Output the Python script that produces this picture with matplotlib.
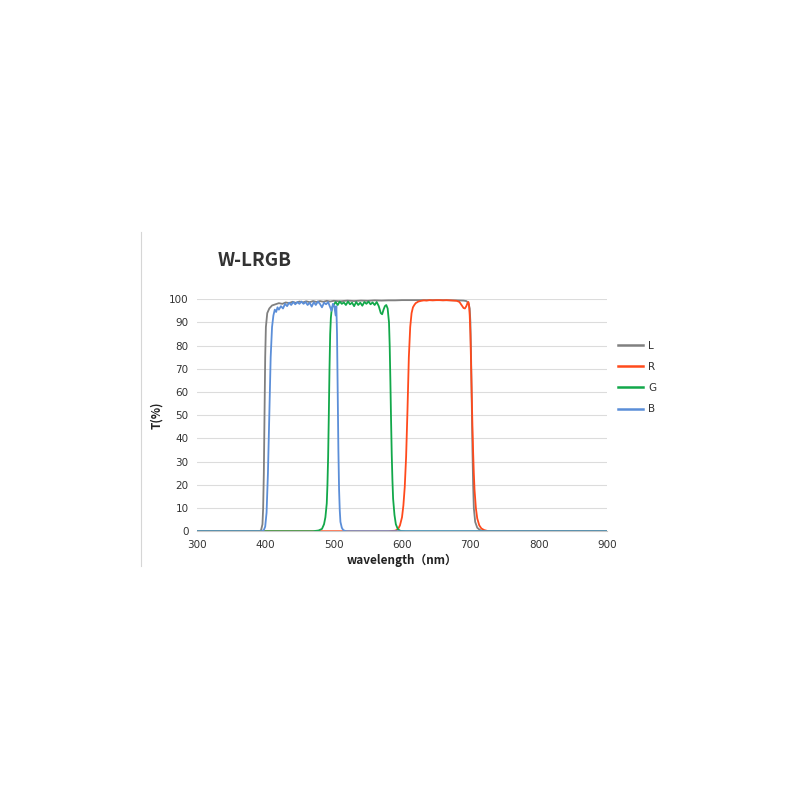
import matplotlib
matplotlib.use("Agg")
import matplotlib.pyplot as plt
from matplotlib.lines import Line2D

# ---- data ----
L_wl = [300, 385, 392, 394, 396, 397, 398, 399, 400, 401,
        403, 406, 410, 415, 420, 425, 430, 435, 440, 445,
        450, 455, 460, 465, 470, 475, 480, 485, 490, 495,
        500, 510, 520, 530, 540, 550, 560, 570, 580, 590,
        600, 620, 640, 660, 680, 690, 694, 697, 699, 700,
        701, 702, 703, 704, 705, 707, 710, 714, 718, 730, 900]
L_T = [0, 0, 0, 0.5, 3, 10, 25, 50, 75, 88,
       94, 96, 97.3, 97.8, 98.3, 98.0, 98.6, 98.3, 98.9, 98.4,
       99.0, 98.6, 99.1, 98.7, 99.2, 98.8, 99.2, 98.9, 99.3, 99.0,
       99.3, 99.1, 99.4, 99.2, 99.4, 99.3, 99.5, 99.4, 99.5, 99.5,
       99.6, 99.6, 99.6, 99.6, 99.5, 99.4, 99.2, 98.5, 96, 90,
       75, 55, 35, 20, 10, 4, 1.5, 0.5, 0.1, 0, 0]

R_wl = [300, 580, 590, 594, 597, 600, 602, 604, 606, 608,
        610, 612, 614, 616, 618, 620, 624, 628, 632, 636,
        640, 645, 650, 655, 660, 665, 670, 675, 680, 684,
        687, 690, 692, 694, 696, 697, 698, 699, 700, 701,
        702, 703, 704, 705, 706, 708, 710, 713, 716, 720,
        725, 730, 900]
R_T = [0, 0, 0.2, 0.8, 2.5, 6, 11, 19, 32, 52,
       75, 88, 94, 96.5, 97.5, 98.3, 99, 99.3, 99.5, 99.4,
       99.6, 99.5, 99.6, 99.6, 99.5, 99.6, 99.5, 99.4, 99.3, 98.8,
       97.5, 96.2, 96, 97, 98.5, 98.8, 97.5, 93, 85, 72,
       58, 45, 34, 25, 18, 10, 5.5, 2.5, 1.2, 0.5,
       0.1, 0, 0]

G_wl = [300, 470, 478, 483, 486, 488, 490, 491, 492, 493,
        494, 495, 496, 497, 498, 500, 503, 506, 509, 512,
        515, 518, 521, 524, 527, 530, 533, 536, 539, 542,
        545, 548, 551, 554, 557, 560, 563, 566, 569, 571,
        573, 575, 577, 579, 581, 582, 583, 584, 585, 586,
        587, 589, 591, 594, 598, 605, 900]
G_T = [0, 0, 0.3, 1, 3, 6, 12, 20, 32, 50,
       70, 85, 92, 95, 96.5, 97.5, 98.8, 97.5, 99, 98,
       98.6, 97.5, 99, 97.8, 98.5, 97, 98.8, 97.5, 98.5, 97.2,
       98.8, 98, 99, 97.8, 98.6, 97.5, 98.8, 97, 94, 93.5,
       95.5, 97, 97.5, 96, 90, 80, 65, 48, 33, 22,
       14, 7, 3, 0.8, 0.1, 0, 0]

B_wl = [300, 395, 398, 400, 402, 404, 406, 408, 410, 412,
        414, 416, 418, 420, 423, 426, 429, 432, 435, 438,
        441, 444, 447, 450, 453, 456, 459, 462, 465, 468,
        471, 474, 477, 480, 483, 486, 489, 492, 495, 497,
        499, 501, 503, 504, 505, 506, 507, 508, 509, 510,
        512, 514, 517, 520, 530, 900]
B_T = [0, 0, 0.5, 2, 8, 25, 50, 75, 88, 93,
       95.5, 94.5, 96.5, 95.5, 97, 96, 98, 97, 98.5, 97.5,
       98.8, 97.8, 98.8, 98, 99, 98, 98.8, 97.5, 98.5, 96.8,
       98.7, 97.5, 99, 98, 96.5, 98.5, 97.8, 98.8, 96.5, 95,
       98, 97, 93, 97, 85, 60, 35, 18, 9, 4,
       1.5, 0.5, 0.1, 0, 0, 0]

series_names = ["L", "R", "G", "B"]
x_ticks = [300, 400, 500, 600, 700, 800, 900]
y_ticks = [0, 10, 20, 30, 40, 50, 60, 70, 80, 90, 100]

colors = {"L": "#808080", "R": "#ff4a1c", "G": "#12a84a", "B": "#5b8ed8"}

fig = plt.figure(figsize=(8, 8), dpi=100)
ax = fig.add_axes([0.246, 0.336, 0.513, 0.29])

data = {"L": (L_wl, L_T), "R": (R_wl, R_T), "G": (G_wl, G_T), "B": (B_wl, B_T)}
for name in series_names:
    wl, t = data[name]
    ax.plot(wl, t, color=colors[name], lw=1.3, label=name, solid_joinstyle="round")

ax.set_xlim(300, 900)
ax.set_ylim(0, 100)
ax.set_xticks(x_ticks)
ax.set_yticks(y_ticks)
ax.grid(axis="y", color="#dcdcdc", lw=0.8)
ax.set_axisbelow(True)
for s in ["top", "right", "left"]:
    ax.spines[s].set_visible(False)
ax.spines["bottom"].set_color("#c8c8c8")
ax.spines["bottom"].set_linewidth(0.8)
ax.tick_params(length=0, labelsize=7.5, colors="#333333", pad=6)

fam = ["Noto Sans CJK SC", "DejaVu Sans"]
ax.set_xlabel("wavelength（nm）", fontsize=8.5, fontweight="bold", family=fam, labelpad=3, color="#222222")
ax.set_ylabel("T(%)", fontsize=8.5, fontweight="bold", family=fam, labelpad=4, color="#222222")

fig.text(0.272, 0.675, "W-LRGB", fontsize=13.5, fontweight="bold", family=fam,
         color="#333333", va="center", ha="left")

leg = ax.legend(loc="upper left", bbox_to_anchor=(1.003, 0.86), frameon=False,
                fontsize=7.5, handlelength=2.4, handletextpad=0.5, labelspacing=1.06)
for t in leg.get_texts():
    t.set_color("#333333")
for h in leg.get_lines():
    h.set_linewidth(1.8)

fig.add_artist(Line2D([0.176, 0.176], [0.293, 0.71], color="#d6d6d6", lw=0.8))

fig.savefig("out.png", dpi=100, facecolor="white")
